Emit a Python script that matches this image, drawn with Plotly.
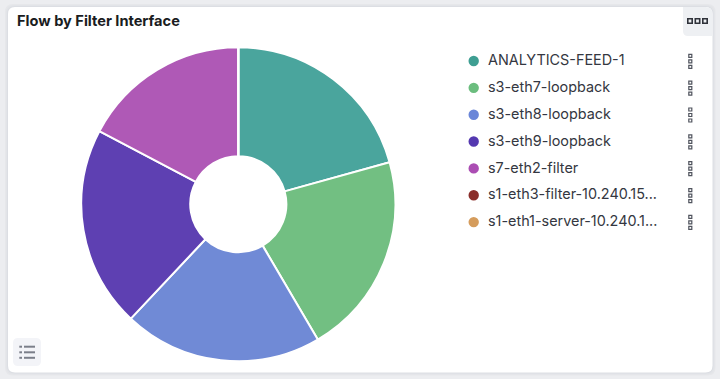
import plotly.graph_objects as go

title = "Flow by Filter Interface"
categories = ["ANALYTICS-FEED-1", "s3-eth7-loopback", "s3-eth8-loopback", "s3-eth9-loopback",
              "s7-eth2-filter", "s1-eth3-filter-10.240.15...", "s1-eth1-server-10.240.1..."]
values = [20.7, 20.85, 20.45, 20.7, 17.3, 0, 0]
slice_colors = ["#4AA59D", "#72BF82", "#708AD6", "#5E40B2", "#AF59B6", "#8C2E2A", "#D9A05F"]
legend_colors = ["#3E9E92", "#6BBD7E", "#6A86D8", "#5438B0", "#AB4DB3", "#8A2E2A", "#D59C5C"]

W, H = 720, 379
cx, cy, r = 238.3, 204.2, 157
ROW_Y0, ROW_DY = 61, 26.85


def rrect(x0, y0, x1, y1, tl=0, tr=0, br=0, bl=0):
    return (f"M{x0+tl},{y0} L{x1-tr},{y0} Q{x1},{y0} {x1},{y0+tr} L{x1},{y1-br} Q{x1},{y1} {x1-br},{y1} "
            f"L{x0+bl},{y1} Q{x0},{y1} {x0},{y1-bl} L{x0},{y0+tl} Q{x0},{y0} {x0+tl},{y0} Z")


shapes = []
# soft card shadow
for grow, col in [(3, "#E6E7EA"), (2, "#E2E4E8"), (1, "#DCDEE3")]:
    shapes.append(dict(type="path", path=rrect(8 - grow, 7 - grow, 712.5 + grow, 372.5 + grow, 8, 8, 8, 8),
                       fillcolor=col, line_width=0, layer="below"))
shapes.append(dict(type="path", path=rrect(8, 7, 712.5, 372.5, 7, 7, 7, 7), fillcolor="#FFFFFF", line_width=0, layer="below"))
# top-right menu button
shapes.append(dict(type="path", path=rrect(683, 7, 712.5, 36, 0, 7, 0, 5), fillcolor="#EEF0F3", line_width=0, layer="below"))
for x in (690, 697.5, 705):
    shapes.append(dict(type="rect", x0=x - 2.2, x1=x + 2.2, y0=18.8, y1=23.2, line=dict(color="#2F323A", width=1.6)))
# bottom-left list button
shapes.append(dict(type="path", path=rrect(13, 338, 41, 366, 5, 5, 5, 5), fillcolor="#F3F4F8", line_width=0, layer="below"))
for y in (346.7, 352.3, 357.8):
    shapes.append(dict(type="line", x0=24, x1=35, y0=y, y1=y, line=dict(color="#7B7F8A", width=2)))
    shapes.append(dict(type="line", x0=19.3, x1=22, y0=y, y1=y, line=dict(color="#7B7F8A", width=2)))

annotations = [dict(text=f"<b>{title}</b>", x=14.5, y=21, xref="x", yref="y", xanchor="left", yanchor="middle",
                    showarrow=False, font=dict(family="Inter", size=14.6, color="#1A1C21"))]
for i, (cat, col) in enumerate(zip(categories, legend_colors)):
    y = ROW_Y0 + i * ROW_DY
    shapes.append(dict(type="circle", x0=468.5, x1=478.9, y0=y - 5.2, y1=y + 5.2, fillcolor=col, line_width=0))
    annotations.append(dict(text=cat, x=485.7, y=y - 1.4, xref="x", yref="y", xanchor="left", yanchor="middle",
                            showarrow=False, font=dict(family="Inter", size=14.4, color="#343741")))
    for d in (-5.5, 0, 5.5):
        shapes.append(dict(type="rect", x0=688.8, x1=691.8, y0=y + d - 1.2, y1=y + d + 1.8,
                           line=dict(color="#50545E", width=1.2)))

fig = go.Figure()
fig.add_trace(go.Pie(labels=categories, values=values, sort=False, direction="clockwise", rotation=0,
                     hole=0.306, textinfo="none", hoverinfo="label+percent", showlegend=False,
                     marker=dict(colors=slice_colors, line=dict(color="#FFFFFF", width=2)),
                     domain=dict(x=[(cx - r) / W, (cx + r) / W], y=[1 - (cy + r) / H, 1 - (cy - r) / H])))
fig.update_layout(width=W, height=H, margin=dict(l=0, r=0, t=0, b=0), paper_bgcolor="#ECEDF0", plot_bgcolor="rgba(0,0,0,0)",
                  xaxis=dict(range=[0, W], visible=False, domain=[0, 1], fixedrange=True),
                  yaxis=dict(range=[H, 0], visible=False, domain=[0, 1], fixedrange=True),
                  shapes=shapes, annotations=annotations)
fig.write_html("out.html", config=dict(displayModeBar=False),
               post_script="document.body.style.margin='0';document.body.style.overflow='hidden';")
